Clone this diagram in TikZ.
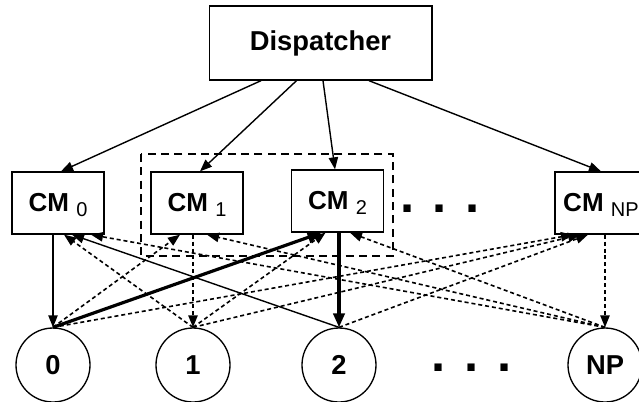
\documentclass[tikz,border=0pt]{standalone}
\usepackage{fontspec}
\setmainfont{Liberation Sans}
\usetikzlibrary{arrows.meta,calc}

\newcommand{\cmname}[1]{{\fontsize{19.5}{19.5}\selectfont\bfseries CM}\hspace{5.5pt}\raisebox{-3.5pt}{\fontsize{15}{15}\selectfont #1}}

\tikzset{
  dispbox/.style={rectangle,draw,line width=1pt,
    minimum width=167pt,minimum height=55.5pt,inner sep=0pt,
    font=\fontsize{20.5}{20.5}\selectfont\bfseries},
  cmbox/.style={rectangle,draw,line width=1pt,
    minimum width=69pt,minimum height=46.5pt,inner sep=0pt,
    text height=13.6pt,text depth=1pt},
  procnode/.style={circle,draw,line width=1pt,
    minimum size=55.5pt,inner sep=0pt,
    font=\fontsize{20.5}{20.5}\selectfont\bfseries},
  dotsnode/.style={inner sep=0pt,font=\fontsize{38}{38}\selectfont\bfseries},
  arr/.style={-{Triangle[length=9pt,width=7pt]},line width=1.05pt},
  arrd/.style={-{Triangle[length=9pt,width=7pt]},line width=1.2pt,
    dash pattern=on 3pt off 2.2pt},
  arrt/.style={-{Triangle[length=10.5pt,width=8.5pt]},line width=2.4pt},
  grpbox/.style={line width=1.05pt,dash pattern=on 6pt off 4pt},
}

\begin{document}
\begin{tikzpicture}[x=0.75pt,y=-0.75pt]
  \useasboundingbox (0,0) rectangle (639,401);

  \node[dispbox] (disp) at (320.5,43) {Dispatcher};

  % cluster managers
  \node[cmbox] (cm0) at (58,203) {\cmname{0}};
  \node[cmbox] (cm1) at (197,203) {\cmname{1}};
  \node[cmbox] (cm2) at (337.5,201) {\cmname{2}};
  \node[cmbox] (cmN) at (601,203) {\cmname{NP}};
  \node[dotsnode] (dtop) at (440,209) {. . .};

  \draw[grpbox] (141,154) rectangle (393,256);

  % processors
  \node[procnode] (p0) at (53,365) {0};
  \node[procnode] (p1) at (193,365) {1};
  \node[procnode] (p2) at (339,365) {2};
  \node[procnode] (pN) at (605,365) {NP};
  \node[dotsnode] (dbot) at (471.5,368) {. . .};

  \foreach \a/\cm/\b in {-59.5/cm0/3,-24/cm1/3,2.5/cm2/-2.5,48.5/cmN/0}
    \draw[arr] ($(disp.south)+(\a,0)$) -- ($(\cm.north)+(\b,0)$);

  % downward links
  \draw[arr] (cm0.south -| p0.north) -- (p0.north);
  \draw[arrd] (cm1.south -| p1.north) -- (p1.north);
  \draw[arrt] (cm2.south -| p2.north) -- (p2.north);
  \draw[arrd] (cmN.south -| pN.north) -- (pN.north);

  % upward links
  \draw[arrt] (p0.north) -- ($(cm2.south)+(-16,0)$);
  \draw[arr] (p2.north) -- ($(cm0.south)+(14,0)$);
  \foreach \p/\cm/\b in {p0/cm1/-17,p0/cmN/-28,p1/cm0/6,p1/cm2/-12,p1/cmN/-21,
      p2/cmN/-13,pN/cm0/33,pN/cm1/10,pN/cm2/12.5}
    \draw[arrd] (\p.north) -- ($(\cm.south)+(\b,0)$);

\end{tikzpicture}
\end{document}
